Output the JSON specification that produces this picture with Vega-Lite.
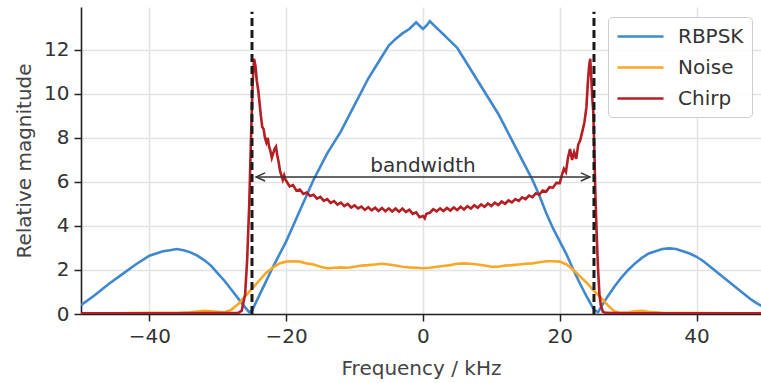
{
  "$schema": "https://vega.github.io/schema/vega-lite/v6.json",
  "autosize": {"type": "none"},
  "padding": {"left": 81, "top": 7, "right": 0, "bottom": 69},
  "width": 680,
  "height": 307,
  "config": {
    "font": "DejaVu Sans",
    "view": {"stroke": null},
    "axis": {
      "domainColor": "#222222", "domainWidth": 1.6,
      "tickColor": "#222222", "tickWidth": 1.5, "tickSize": 7,
      "labelFontSize": 20, "labelColor": "#333333",
      "titleFontSize": 20, "titleFontWeight": "normal", "titleColor": "#444444",
      "gridColor": "#e3e3e3", "gridWidth": 1.6
    }
  },
  "datasets": {
    "spectra": [
      {"series":"RBPSK","f":-50,"v":0.4},{"series":"RBPSK","f":-48,"v":0.85},{"series":"RBPSK","f":-46,"v":1.35},{"series":"RBPSK","f":-44,"v":1.8},{"series":"RBPSK","f":-42,"v":2.25},{"series":"RBPSK","f":-40,"v":2.65},{"series":"RBPSK","f":-38,"v":2.85},{"series":"RBPSK","f":-37,"v":2.9},{"series":"RBPSK","f":-36,"v":2.95},{"series":"RBPSK","f":-35,"v":2.9},{"series":"RBPSK","f":-34,"v":2.8},{"series":"RBPSK","f":-33,"v":2.65},{"series":"RBPSK","f":-32,"v":2.45},{"series":"RBPSK","f":-31,"v":2.2},{"series":"RBPSK","f":-30,"v":1.85},{"series":"RBPSK","f":-29,"v":1.5},{"series":"RBPSK","f":-28,"v":1.1},{"series":"RBPSK","f":-27,"v":0.7},{"series":"RBPSK","f":-26,"v":0.3},{"series":"RBPSK","f":-25.4,"v":0.08},{"series":"RBPSK","f":-25,"v":0.15},{"series":"RBPSK","f":-24,"v":0.8},{"series":"RBPSK","f":-23,"v":1.45},{"series":"RBPSK","f":-22,"v":2.1},{"series":"RBPSK","f":-21,"v":2.7},{"series":"RBPSK","f":-20,"v":3.3},{"series":"RBPSK","f":-19,"v":4.0},{"series":"RBPSK","f":-18,"v":4.7},{"series":"RBPSK","f":-17,"v":5.4},{"series":"RBPSK","f":-16,"v":6.1},{"series":"RBPSK","f":-15,"v":6.7},{"series":"RBPSK","f":-14,"v":7.3},{"series":"RBPSK","f":-13,"v":7.8},{"series":"RBPSK","f":-12,"v":8.3},{"series":"RBPSK","f":-11,"v":8.9},{"series":"RBPSK","f":-10,"v":9.5},{"series":"RBPSK","f":-9,"v":10.1},{"series":"RBPSK","f":-8,"v":10.7},{"series":"RBPSK","f":-7,"v":11.2},{"series":"RBPSK","f":-6,"v":11.7},{"series":"RBPSK","f":-5,"v":12.2},{"series":"RBPSK","f":-4,"v":12.5},{"series":"RBPSK","f":-3,"v":12.75},{"series":"RBPSK","f":-2,"v":12.95},{"series":"RBPSK","f":-1,"v":13.25},{"series":"RBPSK","f":-0.5,"v":13.1},{"series":"RBPSK","f":0,"v":12.95},{"series":"RBPSK","f":0.5,"v":13.1},{"series":"RBPSK","f":1,"v":13.3},{"series":"RBPSK","f":2,"v":13.0},{"series":"RBPSK","f":3,"v":12.7},{"series":"RBPSK","f":4,"v":12.4},{"series":"RBPSK","f":5,"v":12.1},{"series":"RBPSK","f":6,"v":11.6},{"series":"RBPSK","f":7,"v":11.1},{"series":"RBPSK","f":8,"v":10.6},{"series":"RBPSK","f":9,"v":10.1},{"series":"RBPSK","f":10,"v":9.6},{"series":"RBPSK","f":11,"v":9.1},{"series":"RBPSK","f":12,"v":8.5},{"series":"RBPSK","f":13,"v":7.9},{"series":"RBPSK","f":14,"v":7.3},{"series":"RBPSK","f":15,"v":6.7},{"series":"RBPSK","f":16,"v":6.1},{"series":"RBPSK","f":17,"v":5.4},{"series":"RBPSK","f":18,"v":4.6},{"series":"RBPSK","f":19,"v":3.9},{"series":"RBPSK","f":20,"v":3.3},{"series":"RBPSK","f":21,"v":2.7},{"series":"RBPSK","f":22,"v":2.0},{"series":"RBPSK","f":23,"v":1.35},{"series":"RBPSK","f":24,"v":0.75},{"series":"RBPSK","f":25,"v":0.2},{"series":"RBPSK","f":25.6,"v":0.08},{"series":"RBPSK","f":26,"v":0.3},{"series":"RBPSK","f":27,"v":0.8},{"series":"RBPSK","f":28,"v":1.25},{"series":"RBPSK","f":29,"v":1.65},{"series":"RBPSK","f":30,"v":2.0},{"series":"RBPSK","f":31,"v":2.3},{"series":"RBPSK","f":32,"v":2.55},{"series":"RBPSK","f":33,"v":2.75},{"series":"RBPSK","f":34,"v":2.85},{"series":"RBPSK","f":35,"v":2.95},{"series":"RBPSK","f":36,"v":2.98},{"series":"RBPSK","f":37,"v":2.95},{"series":"RBPSK","f":38,"v":2.85},{"series":"RBPSK","f":39,"v":2.75},{"series":"RBPSK","f":40,"v":2.6},{"series":"RBPSK","f":41,"v":2.4},{"series":"RBPSK","f":42,"v":2.15},{"series":"RBPSK","f":43,"v":1.9},{"series":"RBPSK","f":44,"v":1.65},{"series":"RBPSK","f":45,"v":1.4},{"series":"RBPSK","f":46,"v":1.15},{"series":"RBPSK","f":47,"v":0.9},{"series":"RBPSK","f":48,"v":0.65},{"series":"RBPSK","f":49,"v":0.45},{"series":"RBPSK","f":50,"v":0.3},

      {"series":"Noise","f":-50,"v":0.03},{"series":"Noise","f":-45,"v":0.03},{"series":"Noise","f":-40,"v":0.05},{"series":"Noise","f":-36,"v":0.04},{"series":"Noise","f":-34,"v":0.08},{"series":"Noise","f":-32,"v":0.15},{"series":"Noise","f":-30,"v":0.1},{"series":"Noise","f":-29,"v":0.08},{"series":"Noise","f":-28,"v":0.2},{"series":"Noise","f":-27,"v":0.45},{"series":"Noise","f":-26,"v":0.8},{"series":"Noise","f":-25,"v":1.15},{"series":"Noise","f":-24,"v":1.5},{"series":"Noise","f":-23,"v":1.85},{"series":"Noise","f":-22,"v":2.1},{"series":"Noise","f":-21,"v":2.3},{"series":"Noise","f":-20,"v":2.38},{"series":"Noise","f":-19,"v":2.4},{"series":"Noise","f":-18,"v":2.38},{"series":"Noise","f":-17,"v":2.3},{"series":"Noise","f":-16,"v":2.25},{"series":"Noise","f":-15,"v":2.15},{"series":"Noise","f":-14,"v":2.08},{"series":"Noise","f":-13,"v":2.1},{"series":"Noise","f":-12,"v":2.12},{"series":"Noise","f":-11,"v":2.1},{"series":"Noise","f":-10,"v":2.15},{"series":"Noise","f":-9,"v":2.2},{"series":"Noise","f":-8,"v":2.22},{"series":"Noise","f":-7,"v":2.25},{"series":"Noise","f":-6,"v":2.28},{"series":"Noise","f":-5,"v":2.25},{"series":"Noise","f":-4,"v":2.2},{"series":"Noise","f":-3,"v":2.15},{"series":"Noise","f":-2,"v":2.12},{"series":"Noise","f":-1,"v":2.1},{"series":"Noise","f":0,"v":2.08},{"series":"Noise","f":1,"v":2.1},{"series":"Noise","f":2,"v":2.15},{"series":"Noise","f":3,"v":2.18},{"series":"Noise","f":4,"v":2.22},{"series":"Noise","f":5,"v":2.28},{"series":"Noise","f":6,"v":2.3},{"series":"Noise","f":7,"v":2.28},{"series":"Noise","f":8,"v":2.25},{"series":"Noise","f":9,"v":2.2},{"series":"Noise","f":10,"v":2.15},{"series":"Noise","f":11,"v":2.15},{"series":"Noise","f":12,"v":2.2},{"series":"Noise","f":13,"v":2.22},{"series":"Noise","f":14,"v":2.25},{"series":"Noise","f":15,"v":2.28},{"series":"Noise","f":16,"v":2.3},{"series":"Noise","f":17,"v":2.35},{"series":"Noise","f":18,"v":2.4},{"series":"Noise","f":19,"v":2.4},{"series":"Noise","f":20,"v":2.38},{"series":"Noise","f":21,"v":2.25},{"series":"Noise","f":22,"v":2.0},{"series":"Noise","f":23,"v":1.7},{"series":"Noise","f":24,"v":1.4},{"series":"Noise","f":25,"v":1.05},{"series":"Noise","f":26,"v":0.75},{"series":"Noise","f":27,"v":0.4},{"series":"Noise","f":28,"v":0.12},{"series":"Noise","f":29,"v":0.05},{"series":"Noise","f":30,"v":0.08},{"series":"Noise","f":31,"v":0.12},{"series":"Noise","f":32,"v":0.14},{"series":"Noise","f":33,"v":0.1},{"series":"Noise","f":35,"v":0.05},{"series":"Noise","f":40,"v":0.04},{"series":"Noise","f":45,"v":0.03},{"series":"Noise","f":50,"v":0.03},

      {"series":"Chirp","f":-50,"v":0.03},{"series":"Chirp","f":-40,"v":0.03},{"series":"Chirp","f":-30,"v":0.04},{"series":"Chirp","f":-27,"v":0.05},{"series":"Chirp","f":-26.5,"v":0.15},{"series":"Chirp","f":-26,"v":0.9},{"series":"Chirp","f":-25.7,"v":2.5},{"series":"Chirp","f":-25.4,"v":5.0},{"series":"Chirp","f":-25.1,"v":8.5},{"series":"Chirp","f":-24.9,"v":10.5},{"series":"Chirp","f":-24.7,"v":11.6},{"series":"Chirp","f":-24.5,"v":11.3},{"series":"Chirp","f":-24.3,"v":10.6},{"series":"Chirp","f":-24.1,"v":10.2},{"series":"Chirp","f":-23.9,"v":9.6},{"series":"Chirp","f":-23.7,"v":9.0},{"series":"Chirp","f":-23.5,"v":8.5},{"series":"Chirp","f":-23.3,"v":8.4},{"series":"Chirp","f":-23.1,"v":8.0},{"series":"Chirp","f":-22.9,"v":7.8},{"series":"Chirp","f":-22.7,"v":8.0},{"series":"Chirp","f":-22.5,"v":7.6},{"series":"Chirp","f":-22.3,"v":7.4},{"series":"Chirp","f":-22.1,"v":7.1},{"series":"Chirp","f":-21.9,"v":7.3},{"series":"Chirp","f":-21.7,"v":7.5},{"series":"Chirp","f":-21.5,"v":7.6},{"series":"Chirp","f":-21.3,"v":7.2},{"series":"Chirp","f":-21.1,"v":6.9},{"series":"Chirp","f":-20.9,"v":6.5},{"series":"Chirp","f":-20.7,"v":6.3},{"series":"Chirp","f":-20.5,"v":6.1},{"series":"Chirp","f":-20.3,"v":6.3},{"series":"Chirp","f":-20.1,"v":6.1},{"series":"Chirp","f":-19.8,"v":5.95},
      {"series":"Chirp","f":-19.5,"v":5.8},{"series":"Chirp","f":-19,"v":5.86},{"series":"Chirp","f":-18.5,"v":5.6},{"series":"Chirp","f":-18,"v":5.66},{"series":"Chirp","f":-17.5,"v":5.46},{"series":"Chirp","f":-17,"v":5.52},{"series":"Chirp","f":-16.5,"v":5.36},{"series":"Chirp","f":-16,"v":5.42},{"series":"Chirp","f":-15.5,"v":5.24},{"series":"Chirp","f":-15,"v":5.32},{"series":"Chirp","f":-14.5,"v":5.14},{"series":"Chirp","f":-14,"v":5.22},{"series":"Chirp","f":-13.5,"v":5.05},{"series":"Chirp","f":-13,"v":5.13},{"series":"Chirp","f":-12.5,"v":4.97},{"series":"Chirp","f":-12,"v":5.06},{"series":"Chirp","f":-11.5,"v":4.9},{"series":"Chirp","f":-11,"v":5.0},{"series":"Chirp","f":-10.5,"v":4.84},{"series":"Chirp","f":-10,"v":4.94},{"series":"Chirp","f":-9.5,"v":4.8},{"series":"Chirp","f":-9,"v":4.88},{"series":"Chirp","f":-8.5,"v":4.73},{"series":"Chirp","f":-8,"v":4.85},{"series":"Chirp","f":-7.5,"v":4.71},{"series":"Chirp","f":-7,"v":4.83},{"series":"Chirp","f":-6.5,"v":4.68},{"series":"Chirp","f":-6,"v":4.82},{"series":"Chirp","f":-5.5,"v":4.67},{"series":"Chirp","f":-5,"v":4.8},{"series":"Chirp","f":-4.5,"v":4.66},{"series":"Chirp","f":-4,"v":4.79},{"series":"Chirp","f":-3.5,"v":4.65},{"series":"Chirp","f":-3,"v":4.79},{"series":"Chirp","f":-2.5,"v":4.63},{"series":"Chirp","f":-2,"v":4.74},{"series":"Chirp","f":-1.5,"v":4.55},{"series":"Chirp","f":-1,"v":4.62},{"series":"Chirp","f":-0.5,"v":4.4},{"series":"Chirp","f":0,"v":4.45},{"series":"Chirp","f":0.25,"v":4.35},{"series":"Chirp","f":0.5,"v":4.55},{"series":"Chirp","f":1,"v":4.6},{"series":"Chirp","f":1.5,"v":4.76},{"series":"Chirp","f":2,"v":4.66},{"series":"Chirp","f":2.5,"v":4.8},{"series":"Chirp","f":3,"v":4.68},{"series":"Chirp","f":3.5,"v":4.82},{"series":"Chirp","f":4,"v":4.7},{"series":"Chirp","f":4.5,"v":4.84},{"series":"Chirp","f":5,"v":4.72},{"series":"Chirp","f":5.5,"v":4.87},{"series":"Chirp","f":6,"v":4.75},{"series":"Chirp","f":6.5,"v":4.9},{"series":"Chirp","f":7,"v":4.79},{"series":"Chirp","f":7.5,"v":4.94},{"series":"Chirp","f":8,"v":4.83},{"series":"Chirp","f":8.5,"v":4.98},{"series":"Chirp","f":9,"v":4.87},{"series":"Chirp","f":9.5,"v":5.02},{"series":"Chirp","f":10,"v":4.91},{"series":"Chirp","f":10.5,"v":5.06},{"series":"Chirp","f":11,"v":4.95},{"series":"Chirp","f":11.5,"v":5.11},{"series":"Chirp","f":12,"v":5.01},{"series":"Chirp","f":12.5,"v":5.16},{"series":"Chirp","f":13,"v":5.07},{"series":"Chirp","f":13.5,"v":5.22},{"series":"Chirp","f":14,"v":5.14},{"series":"Chirp","f":14.5,"v":5.3},{"series":"Chirp","f":15,"v":5.22},{"series":"Chirp","f":15.5,"v":5.38},{"series":"Chirp","f":16,"v":5.31},{"series":"Chirp","f":16.5,"v":5.48},{"series":"Chirp","f":17,"v":5.42},{"series":"Chirp","f":17.5,"v":5.61},{"series":"Chirp","f":18,"v":5.56},{"series":"Chirp","f":18.5,"v":5.76},{"series":"Chirp","f":19,"v":5.74},{"series":"Chirp","f":19.5,"v":5.96},{"series":"Chirp","f":20,"v":5.95},
      {"series":"Chirp","f":20.3,"v":6.3},{"series":"Chirp","f":20.6,"v":6.6},{"series":"Chirp","f":20.9,"v":6.45},{"series":"Chirp","f":21.2,"v":7.1},{"series":"Chirp","f":21.5,"v":7.5},{"series":"Chirp","f":21.8,"v":7.0},{"series":"Chirp","f":22.1,"v":7.35},{"series":"Chirp","f":22.4,"v":7.05},{"series":"Chirp","f":22.7,"v":7.7},{"series":"Chirp","f":23,"v":7.9},{"series":"Chirp","f":23.3,"v":8.3},{"series":"Chirp","f":23.6,"v":8.7},{"series":"Chirp","f":23.9,"v":9.4},{"series":"Chirp","f":24.1,"v":10.5},{"series":"Chirp","f":24.3,"v":11.3},{"series":"Chirp","f":24.45,"v":11.6},{"series":"Chirp","f":24.6,"v":10.8},{"series":"Chirp","f":24.75,"v":9.8},{"series":"Chirp","f":24.9,"v":9.2},{"series":"Chirp","f":25.05,"v":7.5},{"series":"Chirp","f":25.2,"v":5.5},{"series":"Chirp","f":25.4,"v":3.6},{"series":"Chirp","f":25.6,"v":2.0},{"series":"Chirp","f":25.8,"v":0.9},{"series":"Chirp","f":26,"v":0.4},{"series":"Chirp","f":26.3,"v":0.1},{"series":"Chirp","f":26.7,"v":0.05},{"series":"Chirp","f":28,"v":0.04},{"series":"Chirp","f":30,"v":0.03},{"series":"Chirp","f":40,"v":0.03},{"series":"Chirp","f":50,"v":0.03}
    ],
    "edges": [{"f": -25}, {"f": 25}],
    "span": [{"from": -24.4, "to": 24.4, "level": 6.23, "label": "bandwidth", "mid": 0}],
    "heads": [{"f": -24.4, "level": 6.23, "dir": "left"}, {"f": 24.4, "level": 6.23, "dir": "right"}]
  },
  "layer": [
    {
      "data": {"name": "spectra"},
      "mark": {"type": "line", "clip": true},
      "encoding": {
        "x": {
          "field": "f", "type": "quantitative",
          "scale": {"domain": [-50, 49.42], "nice": false, "zero": false},
          "axis": {"values": [-40, -20, 0, 20, 40], "title": "Frequency / kHz", "labelPadding": 5, "titlePadding": 12, "grid": true}
        },
        "y": {
          "field": "v", "type": "quantitative",
          "scale": {"domain": [0, 13.95], "nice": false},
          "axis": {"values": [0, 2, 4, 6, 8, 10, 12], "title": "Relative magnitude", "labelPadding": 5, "titlePadding": 9, "grid": true}
        },
        "color": {
          "field": "series", "type": "nominal",
          "scale": {"domain": ["RBPSK", "Noise", "Chirp"], "range": ["#3f88cf", "#f9a825", "#b51f24"]},
          "legend": {
            "title": null, "orient": "none", "legendX": 527, "legendY": 10,
            "symbolType": "M-2.3,0L2.3,0", "symbolSize": 400, "symbolStrokeWidth": 4, "symbolOffset": 13,
            "labelFontSize": 20, "labelColor": "#333333", "labelOffset": 26,
            "rowPadding": 9, "padding": 8,
            "fillColor": "rgba(255,255,255,0.85)", "strokeColor": "#cccccc", "cornerRadius": 4
          }
        },
        "strokeWidth": {
          "field": "series", "type": "nominal",
          "scale": {"domain": ["RBPSK", "Noise", "Chirp"], "range": [2.6, 2.6, 3.9]},
          "legend": null
        },
        "order": {"field": "f", "type": "quantitative"}
      }
    },
    {
      "data": {"name": "edges"},
      "mark": {"type": "rule", "color": "#1a1a1a", "strokeWidth": 3, "strokeDash": [8, 4]},
      "encoding": {
        "x": {"field": "f", "type": "quantitative"},
        "y": {"datum": 0},
        "y2": {"datum": 13.73}
      }
    },
    {
      "data": {"name": "span"},
      "mark": {"type": "rule", "color": "#333333", "strokeWidth": 1.5},
      "encoding": {
        "x": {"field": "from", "type": "quantitative"},
        "x2": {"field": "to"},
        "y": {"field": "level", "type": "quantitative"}
      }
    },
    {
      "data": {"name": "span"},
      "mark": {"type": "text", "fontSize": 20, "color": "#333333", "baseline": "alphabetic", "dy": -5},
      "encoding": {
        "x": {"field": "mid", "type": "quantitative"},
        "y": {"field": "level", "type": "quantitative"},
        "text": {"field": "label"}
      }
    },
    {
      "data": {"name": "heads"},
      "transform": [{"filter": "datum.dir === 'left'"}],
      "mark": {"type": "point", "shape": "M2,-0.9L0,0L2,0.9", "filled": false, "stroke": "#333333", "strokeWidth": 1.5, "size": 81, "opacity": 1},
      "encoding": {
        "x": {"field": "f", "type": "quantitative"},
        "y": {"field": "level", "type": "quantitative"}
      }
    },
    {
      "data": {"name": "heads"},
      "transform": [{"filter": "datum.dir === 'right'"}],
      "mark": {"type": "point", "shape": "M-2,-0.9L0,0L-2,0.9", "filled": false, "stroke": "#333333", "strokeWidth": 1.5, "size": 81, "opacity": 1},
      "encoding": {
        "x": {"field": "f", "type": "quantitative"},
        "y": {"field": "level", "type": "quantitative"}
      }
    },
    {
      "mark": {"type": "rule", "color": "#222222", "strokeWidth": 1.8},
      "encoding": {
        "x": {"datum": -50},
        "x2": {"datum": 49.42},
        "y": {"datum": 13.95}
      }
    }
  ]
}
